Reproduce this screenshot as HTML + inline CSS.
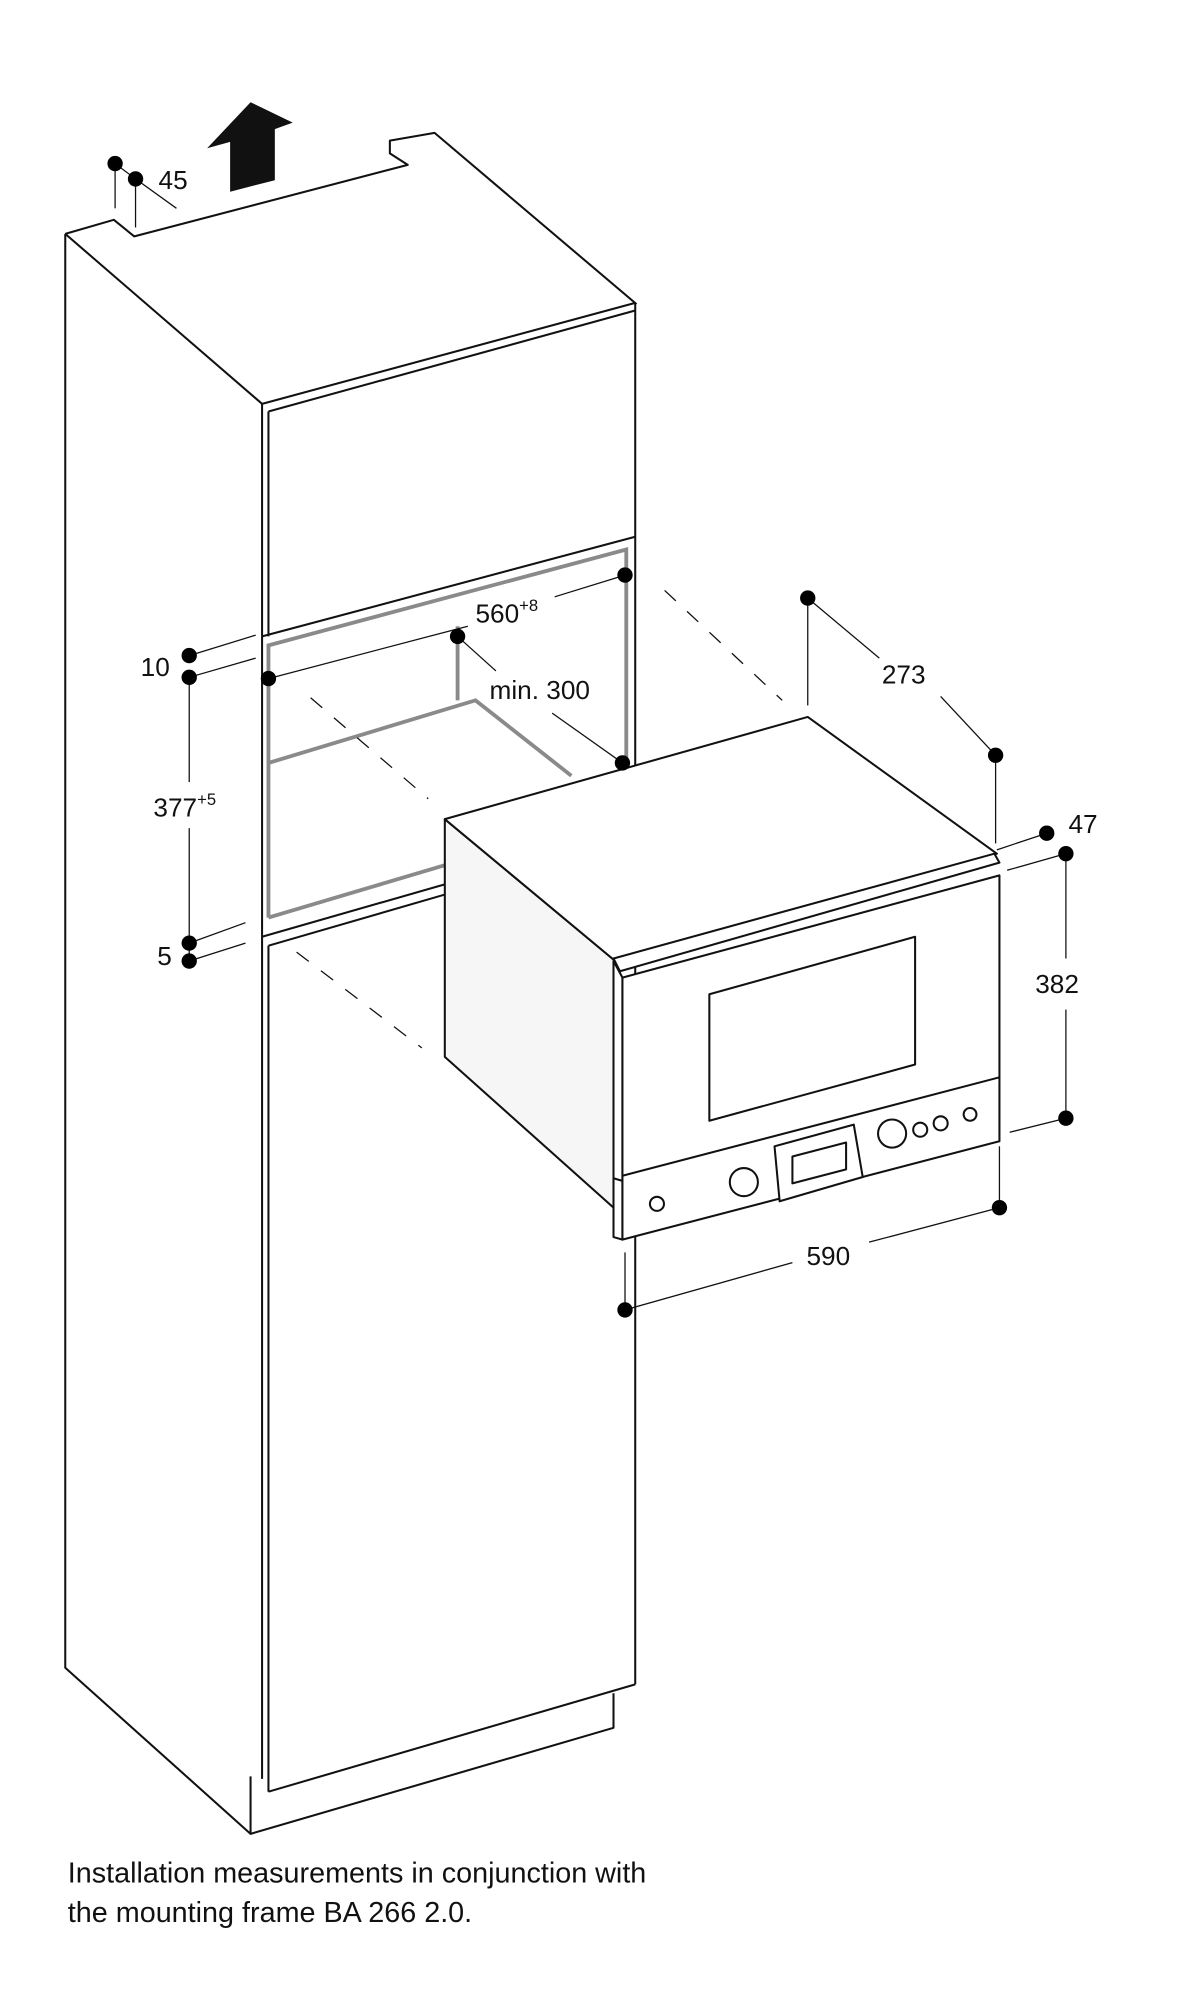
<!DOCTYPE html>
<html><head><meta charset="utf-8"><style>
html,body{margin:0;padding:0;background:#fff;}
svg{display:block;}
text{font-family:"Liberation Sans",sans-serif;fill:#111;}
</style></head><body>
<svg width="1204" height="2000" viewBox="0 0 942 1565" xmlns="http://www.w3.org/2000/svg">
<g fill="none" stroke="#111" stroke-width="1.6" stroke-linejoin="round">
<polyline points="51,183 89,172 105,185 319,129 305,120 305,110 340,104 498,238"/>
<line x1="51" y1="183" x2="205" y2="316"/>
<polyline points="51,183 51,1305 196,1435"/>
<polyline points="205,316 497,237"/>
<line x1="210" y1="322" x2="497" y2="243"/>
<line x1="205" y1="316" x2="205" y2="498"/>
<line x1="210" y1="322" x2="210" y2="498"/>
<line x1="497" y1="237" x2="497" y2="1318"/>
<line x1="205" y1="498" x2="497" y2="420"/>
<line x1="205" y1="498" x2="205" y2="1392"/>
<line x1="205" y1="733" x2="348" y2="692"/>
<line x1="210" y1="740" x2="348" y2="700"/>
<line x1="210" y1="740" x2="210" y2="1402"/>
<line x1="210" y1="1402" x2="497" y2="1318"/>
<polyline points="196,1390 196,1435 480,1352 480,1325"/>
</g>
<g fill="none" stroke="#8a8a8a" stroke-width="3">
<polyline points="210,718 210,505 490,430 490,598"/>
<line x1="210" y1="718" x2="348" y2="677"/>
<line x1="358" y1="490" x2="358" y2="548"/>
<polyline points="210,597 372,548 447,607"/>
</g>
<g stroke="#111" stroke-width="1" stroke-dasharray="12,12">
<line x1="243" y1="546" x2="335" y2="625"/>
<line x1="520" y1="462" x2="612" y2="548"/>
<line x1="232" y1="745" x2="330" y2="820"/>
</g>
<g stroke="#111" stroke-width="1.6" stroke-linejoin="round">
<polygon points="348,641 485,755 480,945 348,827" fill="#f6f6f6"/>
<polygon points="348,641 632,561 780,668 485,755" fill="#fff"/>
<polygon points="480,750 778,668 782,675 485,760" fill="#fff"/>
<polygon points="480,752 487,765 487,970 480,968" fill="#fff"/>
<polygon points="487,765 782,685 782,893 487,970" fill="#fff"/>
<line x1="487" y1="920" x2="782" y2="843"/>
<line x1="480" y1="922" x2="487" y2="924"/>
<polygon points="555,778 716,733 716,833 555,877" fill="#fff"/>
<polygon points="606,897 668,880 675,921 610,940" fill="#fff"/>
<polygon points="620,905 662,894 662,915 620,926" fill="#fff"/>
<circle cx="582" cy="925" r="11" fill="#fff"/>
<circle cx="698" cy="887" r="11" fill="#fff"/>
<circle cx="514" cy="942" r="5.5" fill="#fff"/>
<circle cx="720" cy="884" r="5.5" fill="#fff"/>
<circle cx="736" cy="879" r="5.5" fill="#fff"/>
<circle cx="759" cy="872" r="5" fill="#fff"/>
</g>
<polygon points="196,80 229,96 215,101 215,141 180,150 180,111 162,116" fill="#111"/>
<g stroke="#111" stroke-width="1">
<line x1="90" y1="128" x2="90" y2="163"/>
<line x1="106" y1="140" x2="106" y2="178"/>
<line x1="106" y1="140" x2="138" y2="163"/>
<line x1="90" y1="128" x2="106" y2="140"/>
<line x1="148" y1="513" x2="200" y2="497"/>
<line x1="148" y1="530" x2="200" y2="515"/>
<line x1="210" y1="531" x2="366" y2="490"/>
<line x1="434" y1="467" x2="489" y2="450"/>
<line x1="358" y1="498" x2="388" y2="525"/>
<line x1="432" y1="558" x2="487" y2="597"/>
<line x1="148" y1="530" x2="148" y2="612"/>
<line x1="148" y1="648" x2="148" y2="752"/>
<line x1="148" y1="738" x2="192" y2="722"/>
<line x1="148" y1="752" x2="192" y2="738"/>
<line x1="632" y1="468" x2="632" y2="552"/>
<line x1="632" y1="468" x2="688" y2="515"/>
<line x1="736" y1="545" x2="779" y2="591"/>
<line x1="779" y1="591" x2="779" y2="660"/>
<line x1="819" y1="652" x2="780" y2="665"/>
<line x1="834" y1="668" x2="788" y2="681"/>
<line x1="834" y1="668" x2="834" y2="750"/>
<line x1="834" y1="790" x2="834" y2="875"/>
<line x1="834" y1="875" x2="790" y2="886"/>
<line x1="782" y1="945" x2="782" y2="897"/>
<line x1="782" y1="945" x2="680" y2="972"/>
<line x1="620" y1="988" x2="489" y2="1025"/>
<line x1="489" y1="1025" x2="489" y2="980"/>
</g>
<g fill="#000">
<circle cx="90" cy="128" r="6"/><circle cx="106" cy="140" r="6"/>
<circle cx="148" cy="513" r="6"/><circle cx="148" cy="530" r="6"/>
<circle cx="210" cy="531" r="6"/><circle cx="489" cy="450" r="6"/>
<circle cx="358" cy="498" r="6"/><circle cx="487" cy="597" r="6"/>
<circle cx="148" cy="738" r="6"/><circle cx="148" cy="752" r="6"/>
<circle cx="632" cy="468" r="6"/><circle cx="779" cy="591" r="6"/>
<circle cx="819" cy="652" r="6"/><circle cx="834" cy="668" r="6"/>
<circle cx="834" cy="875" r="6"/>
<circle cx="782" cy="945" r="6"/><circle cx="489" cy="1025" r="6"/>
</g>
<g font-size="20.5">
<text x="124" y="148">45</text>
<text x="110" y="529">10</text>
<text x="372" y="487">560<tspan font-size="13" dy="-9">+8</tspan></text>
<text x="383" y="547">min. 300</text>
<text x="120" y="639">377<tspan font-size="13" dy="-9">+5</tspan></text>
<text x="123" y="755">5</text>
<text x="690" y="535">273</text>
<text x="836" y="652">47</text>
<text x="810" y="777">382</text>
<text x="631" y="990">590</text>
</g>
<g font-size="22.5">
<text x="53" y="1473">Installation measurements in conjunction with</text>
<text x="53" y="1504">the mounting frame BA 266 2.0.</text>
</g>
</svg>
</body></html>
